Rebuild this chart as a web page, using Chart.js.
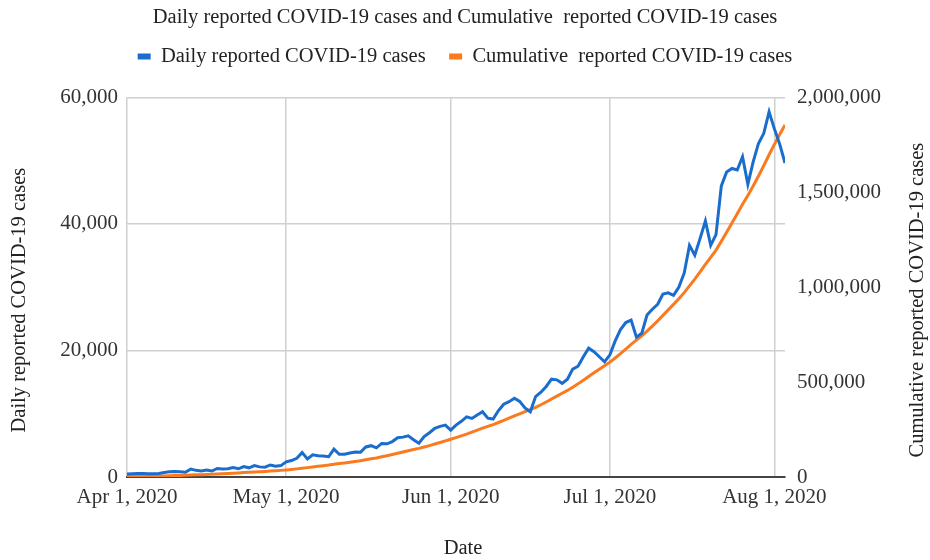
<!DOCTYPE html>
<html>
<head>
<meta charset="utf-8">
<script src="https://cdn.jsdelivr.net/npm/chart.js@4.4.1/dist/chart.umd.min.js"></script>
<style>
  html, body { margin: 0; padding: 0; background: #ffffff; }
  #wrap { width: 930px; height: 560px; position: relative; }
</style>
</head>
<body>
<div id="wrap"><canvas id="c" width="930" height="560"></canvas></div>
<script>
// ---- Data ----
const chartTitle = 'Daily reported COVID-19 cases and Cumulative  reported COVID-19 cases';
const seriesNames = ['Daily reported COVID-19 cases', 'Cumulative  reported COVID-19 cases'];
const xTitle = 'Date';
const leftTitle = 'Daily reported COVID-19 cases';
const rightTitle = 'Cumulative reported COVID-19 cases';

// day index 0 = Apr 1, 2020 ... 124 = Aug 3, 2020
const tickDays = [0, 30, 61, 91, 122];
const tickLabels = ['Apr 1, 2020', 'May 1, 2020', 'Jun 1, 2020', 'Jul 1, 2020', 'Aug 1, 2020'];

const dailyApr = [480, 520, 560, 540, 500, 520, 560, 720, 820, 860, 820, 760, 1250, 1050, 950, 1100, 950, 1350, 1250, 1300, 1500, 1300, 1650, 1450, 1800, 1600, 1550, 1900, 1700, 1800];
const dailyMay = [2400, 2600, 2950, 3850, 2850, 3500, 3350, 3300, 3200, 4400, 3600, 3600, 3800, 3950, 3900, 4750, 4950, 4600, 5300, 5250, 5600, 6200, 6300, 6500, 5900, 5350, 6400, 7000, 7700, 8000, 8200];
const dailyJun = [7400, 8200, 8800, 9500, 9250, 9800, 10300, 9300, 9150, 10500, 11500, 11900, 12450, 11950, 10900, 10300, 12700, 13400, 14300, 15450, 15350, 14800, 15450, 17050, 17500, 19000, 20350, 19800, 19000, 18200];
const dailyJul = [19300, 21500, 23300, 24400, 24800, 22100, 22700, 25600, 26500, 27300, 28900, 29100, 28700, 30000, 32200, 36600, 35050, 37700, 40450, 36600, 38300, 46000, 48200, 48750, 48500, 50600, 46250, 49800, 52700, 54300, 57700];
const dailyAug = [55000, 52600, 49600];

const cumApr = [2000, 2500, 3000, 3600, 4100, 4800, 5300, 5900, 6700, 7600, 8400, 9200, 10400, 11500, 12400, 13400, 14400, 15700, 17300, 18600, 20100, 21400, 23100, 24500, 26300, 27900, 29500, 31400, 33100, 34900];
const cumMay = [37300, 39800, 42800, 46400, 49400, 53000, 56300, 59700, 62900, 67200, 70800, 74300, 78000, 82000, 85800, 90600, 95700, 100300, 106500, 112200, 118200, 124800, 131400, 138500, 144900, 150800, 158100, 165400, 173500, 181800, 190600];
const cumJun = [199000, 207500, 216500, 226000, 236000, 246500, 257000, 266500, 276000, 287000, 298000, 309500, 321500, 333000, 344000, 354500, 367000, 380500, 395000, 410500, 426000, 441000, 456000, 473000, 490500, 509500, 529000, 548500, 567500, 586000];
const cumJul = [605000, 627000, 650000, 674000, 698500, 720500, 743500, 768500, 795000, 822500, 851000, 880000, 909000, 939000, 971000, 1007000, 1042000, 1080000, 1120000, 1157000, 1195000, 1241000, 1289000, 1338000, 1387000, 1437000, 1483000, 1533000, 1585000, 1640000, 1697000];
const cumAug = [1752000, 1804000, 1854000];

const daily = [].concat(dailyApr, dailyMay, dailyJun, dailyJul, dailyAug);
const cumulative = [].concat(cumApr, cumMay, cumJun, cumJul, cumAug);

// ---- Chart ----
const FONT = '"Liberation Serif", "Times New Roman", serif';
const BLUE = '#1a6dcc';
const ORANGE = '#fb7a1e';

const axisTitlesPlugin = {
  id: 'axisTitles',
  afterDraw(chart) {
    const { ctx, chartArea: a } = chart;
    ctx.save();
    ctx.font = '20.5px ' + FONT;
    ctx.fillStyle = '#222';
    ctx.textAlign = 'center';
    ctx.textBaseline = 'middle';
    const cy = (a.top + a.bottom) / 2 + 13;
    ctx.save(); ctx.translate(20, cy); ctx.rotate(-Math.PI / 2); ctx.fillText(leftTitle, 0, 0); ctx.restore();
    ctx.save(); ctx.translate(918, cy); ctx.rotate(-Math.PI / 2); ctx.fillText(rightTitle, 0, 0); ctx.restore();
    ctx.fillText(xTitle, 463, 549);
    ctx.restore();
  }
};

new Chart(document.getElementById('c'), {
  type: 'line',
  data: {
    datasets: [
      {
        label: seriesNames[0],
        data: daily.map((v, i) => ({ x: i, y: v })),
        borderColor: BLUE, backgroundColor: BLUE,
        borderWidth: 3, pointRadius: 0, tension: 0, yAxisID: 'y'
      },
      {
        label: seriesNames[1],
        data: cumulative.map((v, i) => ({ x: i, y: v })),
        borderColor: ORANGE, backgroundColor: ORANGE,
        borderWidth: 3, pointRadius: 0, tension: 0, yAxisID: 'y1'
      }
    ]
  },
  options: {
    responsive: false,
    animation: false,
    layout: { padding: 0 },
    plugins: {
      tooltip: { enabled: false },
      title: {
        display: true, text: chartTitle, color: '#222',
        font: { family: FONT, size: 20.5, weight: 'normal', lineHeight: 0.5 },
        padding: { top: 12.5, bottom: 0 }
      },
      subtitle: {
        display: true, text: '', position: 'top', weight: 500,
        font: { size: 1, lineHeight: 1 }, padding: { top: 19.5, bottom: 0 }
      },
      legend: {
        position: 'top',
        labels: {
          color: '#222',
          font: { family: FONT, size: 20.5 },
          boxWidth: 13, boxHeight: 6, padding: 23.5,
          generateLabels(chart) {
            const items = Chart.defaults.plugins.legend.labels.generateLabels(chart);
            items.forEach(it => { it.lineWidth = 0; it.fillStyle = it.strokeStyle; });
            return items;
          }
        }
      }
    },
    scales: {
      x: {
        type: 'linear', min: 0, max: 124,
        afterBuildTicks(scale) { scale.ticks = tickDays.map(v => ({ value: v })); },
        afterFit(scale) { scale.height = 83; },
        ticks: {
          autoSkip: false, maxRotation: 0, padding: 8, color: '#333',
          font: { family: FONT, size: 21 },
          callback(v) { const k = tickDays.indexOf(v); return k >= 0 ? tickLabels[k] : ''; }
        },
        grid: { color: '#d0d0d0', lineWidth: 1.5, drawTicks: false },
        border: { display: true, color: '#444', width: 2 }
      },
      y: {
        position: 'left', min: 0, max: 60000,
        afterFit(scale) { scale.width = 127; },
        ticks: {
          stepSize: 20000, padding: 9, color: '#333',
          font: { family: FONT, size: 21 },
          callback(v) { return v.toLocaleString('en-US'); }
        },
        grid: { color: '#d0d0d0', lineWidth: 1.5, drawTicks: false },
        border: { display: false }
      },
      y1: {
        position: 'right', min: 0, max: 2000000,
        afterFit(scale) { scale.width = 145; },
        ticks: {
          stepSize: 500000, padding: 12, color: '#333',
          font: { family: FONT, size: 21 },
          callback(v) { return v.toLocaleString('en-US'); }
        },
        grid: { display: false, drawTicks: false },
        border: { display: false }
      }
    }
  },
  plugins: [axisTitlesPlugin]
});
</script>
</body>
</html>
